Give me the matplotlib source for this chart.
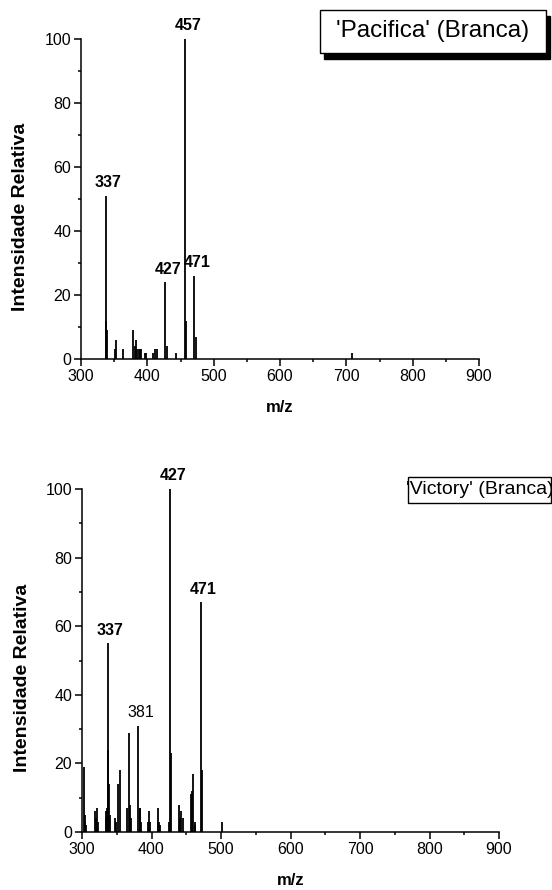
import matplotlib
matplotlib.use("Agg")
import matplotlib.pyplot as plt
from matplotlib.patches import Rectangle
from matplotlib.ticker import MultipleLocator

plt.rcParams['font.family'] = ['Liberation Sans', 'DejaVu Sans']

# 'Pacifica' (Branca) spectrum
pacifica_mz = [337, 338, 339, 351, 353, 364, 379, 381, 383, 385, 387, 389, 391,
               396, 398, 409, 412, 415, 427, 429, 443, 457, 459, 471, 473, 709]
pacifica_int = [51, 12, 9, 3, 6, 3, 9, 4, 6, 3, 3, 3, 3,
                2, 2, 2, 3, 3, 24, 4, 2, 100, 12, 26, 7, 2]
pacifica_labels = [337, 427, 457, 471]

# 'Victory' (Branca) spectrum
victory_mz = [303, 304, 305, 306,
              319, 320, 322, 323,
              334, 335, 336, 337, 338, 339, 341,
              348, 349, 352, 354,
              365, 367, 369, 370,
              381, 383, 384, 385,
              395, 396, 397, 398,
              409, 410, 411, 412,
              425, 427, 428,
              439, 441, 443, 445,
              457, 458, 460, 462, 463,
              471, 472,
              502]
victory_int = [19, 3, 5, 2,
               6, 4, 7, 3,
               4, 6, 7, 55, 24, 14, 5,
               4, 3, 14, 18,
               7, 29, 8, 4,
               31, 7, 7, 3,
               3, 6, 3, 3,
               3, 7, 3, 2,
               3, 100, 23,
               8, 4, 6, 4,
               11, 12, 17, 3, 2,
               67, 18,
               3]
victory_labels = [337, 381, 427, 471]
victory_bold = [True, False, True, True]

W, H = 552, 890
fig = plt.figure(figsize=(W / 100, H / 100), dpi=100)


def rect(left, top, right, bottom):
    return [left / W, 1 - bottom / H, (right - left) / W, (bottom - top) / H]


def style(ax):
    ax.set_xlim(300, 900)
    ax.set_ylim(0, 100)
    ax.spines['top'].set_visible(False)
    ax.spines['right'].set_visible(False)
    for s in ('left', 'bottom'):
        ax.spines[s].set_linewidth(1.1)
    ax.xaxis.set_major_locator(MultipleLocator(100))
    ax.xaxis.set_minor_locator(MultipleLocator(50))
    ax.yaxis.set_major_locator(MultipleLocator(20))
    ax.yaxis.set_minor_locator(MultipleLocator(10))
    ax.tick_params(which='major', direction='out', length=5, width=1.1,
                   labelsize=11.5, pad=2)
    ax.tick_params(which='minor', direction='out', length=2.5, width=1.1)
    ax.set_xlabel('m/z', fontsize=12, fontweight='bold', labelpad=12)


def label_box(text, left, top, right, bottom, size, shadow=True):
    if shadow:
        fig.patches.append(Rectangle(((left + 4) / W, 1 - (bottom + 6) / H),
                                     (right - left) / W, (bottom - top) / H,
                                     transform=fig.transFigure,
                                     facecolor='black', edgecolor='black'))
    fig.patches.append(Rectangle((left / W, 1 - bottom / H),
                                 (right - left) / W, (bottom - top) / H,
                                 transform=fig.transFigure,
                                 facecolor='white', edgecolor='black',
                                 linewidth=1.0))
    fig.text((left + right) / 2 / W, 1 - (top + bottom) / 2 / H, text,
             fontsize=size, ha='center', va='center')


# top panel
ax1 = fig.add_axes(rect(81, 39, 479, 359))
style(ax1)
ax1.vlines(pacifica_mz, 0, pacifica_int, color='black', linewidth=1.3)
p_lookup = dict(zip(pacifica_mz, pacifica_int))
for mz in pacifica_labels:
    ax1.annotate(str(mz), (mz, p_lookup[mz]), xytext=(2, 4),
                 textcoords='offset points', ha='center', va='bottom',
                 fontsize=11.5, fontweight='bold', annotation_clip=False)
fig.text(21 / W, 1 - 217 / H, 'Intensidade Relativa', rotation=90,
         fontsize=14, fontweight='bold', ha='center', va='center')
label_box("'Pacifica' (Branca)", 320, 10, 546, 53, 17.5)

# bottom panel
ax2 = fig.add_axes(rect(82, 489, 499, 832))
style(ax2)
ax2.vlines(victory_mz, 0, victory_int, color='black', linewidth=1.3)
v_lookup = dict(zip(victory_mz, victory_int))
for mz, bold in zip(victory_labels, victory_bold):
    ax2.annotate(str(mz), (mz, v_lookup[mz]), xytext=(2, 4),
                 textcoords='offset points', ha='center', va='bottom',
                 fontsize=11.5, fontweight='bold' if bold else 'normal',
                 annotation_clip=False)
fig.text(23 / W, 1 - 678 / H, 'Intensidade Relativa', rotation=90,
         fontsize=14, fontweight='bold', ha='center', va='center')
label_box("'Victory' (Branca)", 408, 477, 551, 503, 14, shadow=False)

fig.savefig('out.png', dpi=100)
